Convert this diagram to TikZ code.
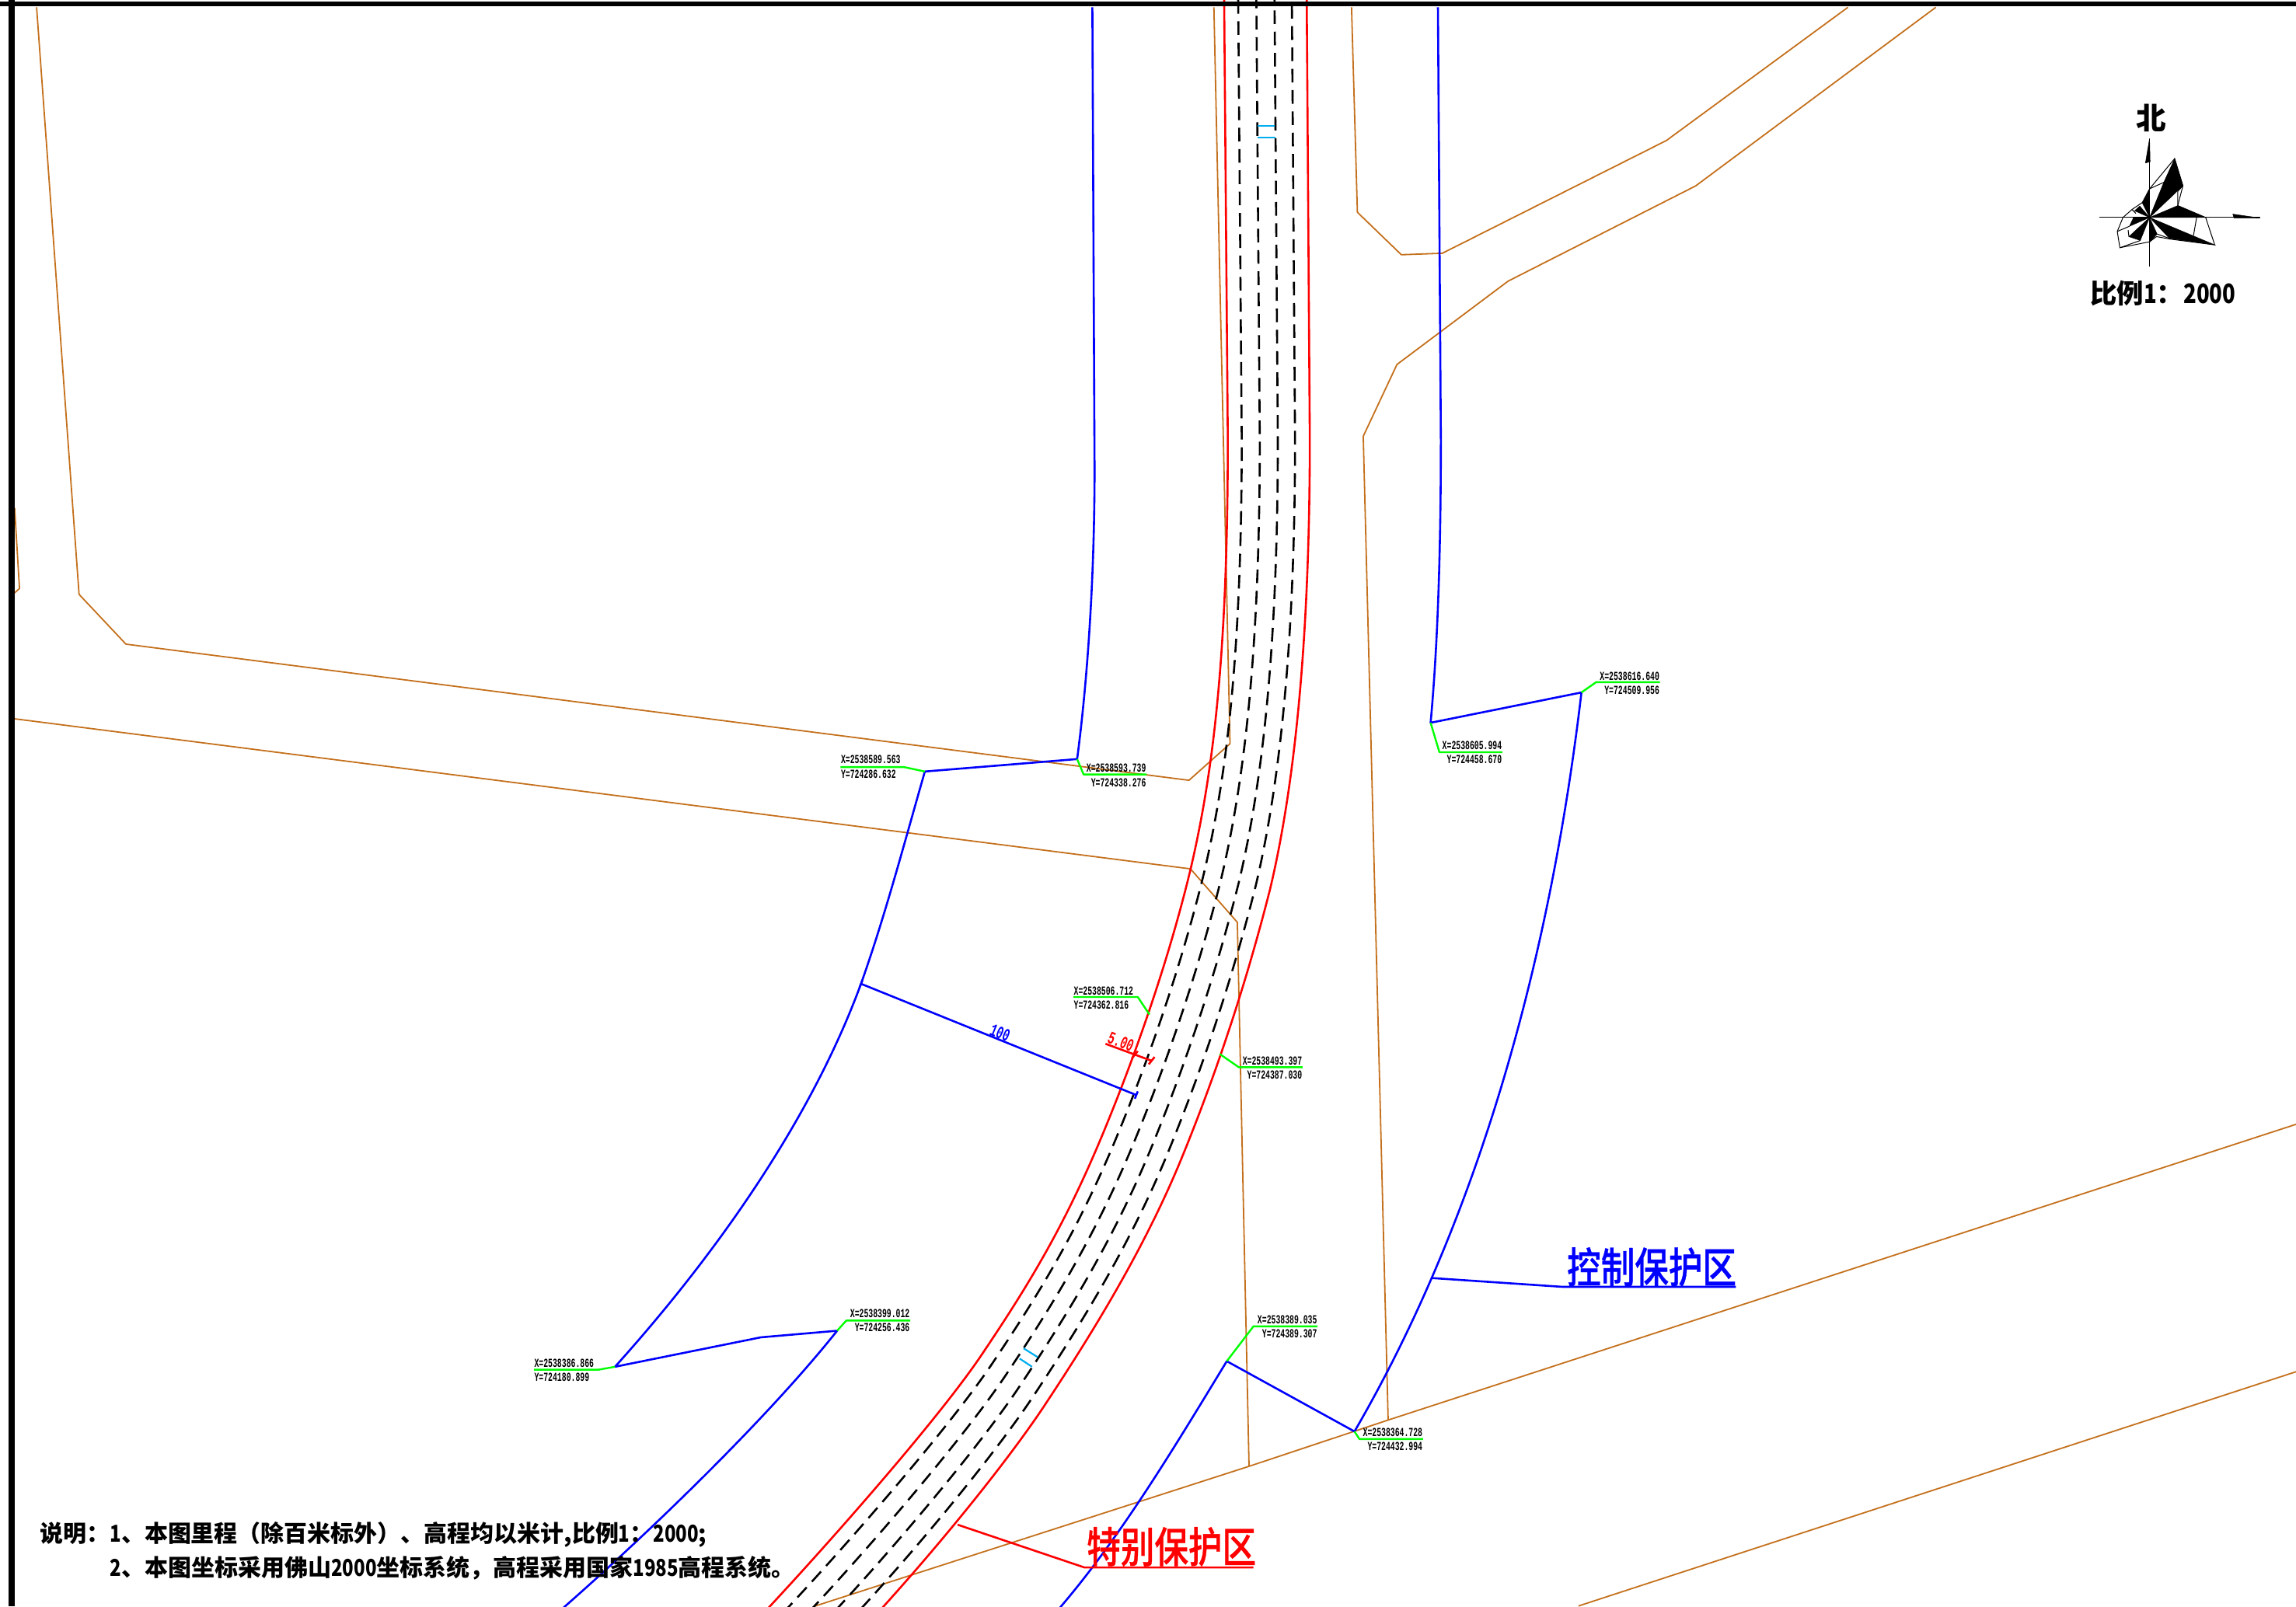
\documentclass[tikz,border=0pt]{standalone}
\usepackage{fontspec}
\newfontfamily\cjk{Noto Sans CJK SC}
\newfontfamily\cjkdig[FakeStretch=0.8]{Noto Sans CJK SC}
\newfontfamily\cjkn[FakeStretch=0.8,FakeBold=0.6]{Noto Sans CJK SC Medium}
\newfontfamily\coordfont[FakeStretch=0.62]{Liberation Mono}
\definecolor{plotorange}{RGB}{196,112,28}
\newcommand{\dg}[1]{{\cjkdig\bfseries #1}}
\tikzset{
  px/.style={line width=#1*0.2845pt},
  orangeline/.style={draw=plotorange,px=1.8,line join=round},
  redline/.style={draw=red,px=2.6,line join=round},
  blueline/.style={draw=blue,px=2.6,line join=round},
  greenline/.style={draw=green,px=2.4,line join=round},
  laneline/.style={draw=black,px=2.6,dash pattern=on 5pt off 2.8pt},
  cyanline/.style={draw=cyan,px=2.2},
  cwest/.style={inner sep=0pt,anchor=west,font=\coordfont\bfseries\fontsize{4.5}{4.5}\selectfont},
  ceast/.style={inner sep=0pt,anchor=east,font=\coordfont\bfseries\fontsize{4.5}{4.5}\selectfont},
  dimtext/.style={inner sep=0pt,font=\coordfont\bfseries\fontsize{6.5}{6.5}\selectfont},
  zonetext/.style={inner sep=0pt,font=\cjkn\fontsize{15.5}{15.5}\selectfont},
  notetext/.style={inner sep=0pt,anchor=west,font=\cjk\bfseries\fontsize{8.53}{8.53}\selectfont},
  compassfill/.style={fill=black,draw=black,px=.5},
  compassline/.style={draw=black,px=1}
}
\usetikzlibrary{calc}
\newcommand{\mx}[3]{($(#1)!#3!(#2)$)}
\newcommand{\lanecurve}[1]{\mx{La}{Ra}{#1} -- \mx{Lb}{Rb}{#1}
 .. controls \mx{Lb1}{Rb1}{#1} and \mx{Lc2}{Rc2}{#1} .. \mx{Lc}{Rc}{#1}
 .. controls \mx{Lc1}{Rc1}{#1} and \mx{Ld2}{Rd2}{#1} .. \mx{Ld}{Rd}{#1}
 .. controls \mx{Ld1}{Rd1}{#1} and \mx{Le2}{Re2}{#1} .. \mx{Le}{Re}{#1}
 .. controls \mx{Le1}{Re1}{#1} and \mx{Lf2}{Rf2}{#1} .. \mx{Lf}{Rf}{#1}
 -- \mx{Lg}{Rg}{#1}}
\begin{document}
\begin{tikzpicture}[x=0.0188393cm,y=-0.0188393cm]
\useasboundingbox (0,0) rectangle (1568,1097.19);
\begin{scope}
\clip (0,0) rectangle (1568,1097.19);
% road stations: left edge
\coordinate (La) at (836,0);
\coordinate (Lb) at (838.5,300);
\coordinate (Lb1) at (838.5,450);
\coordinate (Lc2) at (828,530);
\coordinate (Lc) at (813,594);
\coordinate (Lc1) at (800,648);
\coordinate (Ld2) at (779.6,710);
\coordinate (Ld) at (755,770);
\coordinate (Ld1) at (728,836);
\coordinate (Le2) at (703,877);
\coordinate (Le) at (670,926);
\coordinate (Le1) at (643,966);
\coordinate (Lf2) at (577,1042);
\coordinate (Lf) at (526,1097);
\coordinate (Lg) at (490,1136);
% road stations: right edge
\coordinate (Ra) at (892.4,0);
\coordinate (Rb) at (894.5,300);
\coordinate (Rb1) at (894.5,450);
\coordinate (Rc2) at (882,546);
\coordinate (Rc) at (867.3,607.6);
\coordinate (Rc1) at (853,664);
\coordinate (Rd2) at (833.6,726);
\coordinate (Rd) at (807,791);
\coordinate (Rd1) at (782.4,851);
\coordinate (Re2) at (748,907.5);
\coordinate (Re) at (715,957.5);
\coordinate (Re1) at (686,1002);
\coordinate (Rf2) at (622,1080);
\coordinate (Rf) at (568,1135);
\coordinate (Rg) at (532,1174);
% orange boundaries
\draw[orangeline] (25,5) -- (54,406) -- (86,440) -- (812,533) -- (840,508) -- (829,5);
\draw[orangeline] (10,347) -- (13.3,402) -- (10,405);
\draw[orangeline] (10,491) -- (813,593.5) -- (845,630) -- (853,1001.6);
\draw[orangeline] (923,5) -- (927,145) -- (957,174) -- (985,173) -- (1138,96) -- (1262,5);
\draw[orangeline] (1322,5) -- (1158,127) -- (1030,192) -- (954,249) -- (931,298) -- (948,970);
\draw[orangeline] (556.8,1097) -- (853,1001.6) -- (948,970) -- (1568,768);
\draw[orangeline] (1078,1097) -- (1568,937);
% lanes
\draw[laneline] \lanecurve{0.17};
\draw[laneline,dash phase=2pt] \lanecurve{0.39};
\draw[laneline,dash phase=4pt] \lanecurve{0.61};
\draw[laneline,dash phase=6pt] \lanecurve{0.82};
\draw[redline] \lanecurve{0};
\draw[redline] \lanecurve{1};
% cyan marks
\draw[cyanline] (858.8,86) -- (870.5,86);
\draw[cyanline] (858.8,93.8) -- (871,93.8);
\draw[cyanline] (699,921) -- (708.6,927);
\draw[cyanline] (696.3,928) -- (704.8,933.6);
% blue control zone
\coordinate (a1) at (735.6,518.5);
\coordinate (a2) at (631.6,527);
\coordinate (a3) at (420,933.6);
\coordinate (a4) at (571.7,909);
\coordinate (b1) at (977,493.7);
\coordinate (b2) at (1080,473);
\coordinate (b3) at (925,977.8);
\coordinate (b4) at (837.8,929.8);
\coordinate (d1) at (588,672);
\coordinate (d2) at (776,748);
\draw[blueline] (746,5) -- (747.5,320) .. controls (747.5,400) and (742,470) .. (a1) -- (a2)
  .. controls (617,578) and (604,627) .. (d1)
  .. controls (555,762) and (492,853.6) .. (a3)
  -- (519.6,913.5) -- (a4)
  .. controls (524,969) and (442,1048) .. (385,1098);
\draw[blueline] (982,5) -- (984,300) .. controls (984,390) and (981,450) .. (b1) -- (b2)
  .. controls (1058,660) and (1008,835) .. (b3) -- (b4)
  .. controls (800,992) and (765,1050) .. (724,1098);
\end{scope}
% dimensions
\draw[blueline] (d1) -- (d2);
\draw[blueline] ($(d1)+(-1,2.5)$) -- ($(d1)+(1,-2.5)$);
\draw[blueline] ($(d2)+(-1,2.5)$) -- ($(d2)+(1,-2.5)$);
\node[dimtext,rotate=-22,text=blue] (t100) at (683,705.5) {100};
\draw[redline] (755,713) -- (786.5,724.6);
\draw[redline] (784.5,727) -- (788.5,722);
\draw[redline] (773,723) -- (777,718);
\node[dimtext,rotate=-22,text=red] (t500) at (765.5,711.5) {5.00};
% green leaders
\draw[greenline] (a2) -- (617.5,524) -- (574,524);
\draw[greenline] (a1) -- (740,529) -- (783,529);
\draw[greenline] (785,693) -- (777,681) -- (733,681);
\draw[greenline] (833,720) -- (846,729) -- (889.6,729);
\draw[greenline] (a3) -- (408.8,935.6) -- (364.6,935.6);
\draw[greenline] (a4) -- (578,902) -- (621.6,902);
\draw[greenline] (b4) -- (856,906) -- (899.8,906);
\draw[greenline] (b3) -- (928.4,983) -- (971.8,983);
\draw[greenline] (b2) -- (1090,466) -- (1133.6,466);
\draw[greenline] (b1) -- (983,513.8) -- (1026,513.8);
% coordinate labels
\node[cwest] (p1x) at (574,519) {X=2538589.563};
\node[cwest] (p1y) at (574,529) {Y=724286.632};
\node[ceast] (p2x) at (783,524.5) {X=2538593.739};
\node[ceast] (p2y) at (783,534.5) {Y=724338.276};
\node[cwest] (p3x) at (733,677) {X=2538506.712};
\node[cwest] (p3y) at (733,686.5) {Y=724362.816};
\node[ceast] (p4x) at (889.6,724.5) {X=2538493.397};
\node[ceast] (p4y) at (889.6,734) {Y=724387.030};
\node[cwest] (p5x) at (364.6,931) {X=2538386.866};
\node[cwest] (p5y) at (364.6,940.7) {Y=724180.899};
\node[ceast] (p6x) at (621.6,897) {X=2538399.012};
\node[ceast] (p6y) at (621.6,906.6) {Y=724256.436};
\node[ceast] (p7x) at (899.8,901.4) {X=2538389.035};
\node[ceast] (p7y) at (899.8,911) {Y=724389.307};
\node[ceast] (p8x) at (971.8,978.3) {X=2538364.728};
\node[ceast] (p8y) at (971.8,988) {Y=724432.994};
\node[ceast] (p9x) at (1133.6,461.8) {X=2538616.640};
\node[ceast] (p9y) at (1133.6,471.4) {Y=724509.956};
\node[ceast] (p10x) at (1026,509) {X=2538605.994};
\node[ceast] (p10y) at (1026,519) {Y=724458.670};
% zone labels
\node[zonetext,text=blue] (ctrl) at (1128,865.5) {控制保护区};
\draw[blueline] (978,873) -- (1067,879) -- (1185.5,879);
\node[zonetext,text=red] (spec) at (800,1056.5) {特别保护区};
\draw[redline] (654,1041.5) -- (740.6,1070.7) -- (856,1070.7);
% notes
\node[notetext] (n1) at (27,1048) {说明：\dg{1}、本图里程（除百米标外）、高程均以米计,比例\dg{1}：\dg{2000};};
\node[notetext] (n2) at (75,1071) {\dg{2}、本图坐标采用佛山\dg{2000}坐标系统，高程采用国家\dg{1985}高程系统。};
% compass
\begin{scope}[shift={(1380.1,53.08)},x=0.003333cm,y=-0.003333cm]
\coordinate (c) at (498,541);
\draw[compassline] (498,240) -- (498,730);
\draw[compassline] (303,541) -- (925,541);
\fill[compassfill] (498,235) -- (482,330) -- (500,325) -- cycle;
\fill[compassfill] (820,528) -- (925,543) -- (825,543) -- cycle;
\fill[compassfill] (c) -- (553,405) -- (595,313) -- (627,418) -- cycle;
\fill[compassfill] (c) -- (470,485) -- (498,430) -- cycle;
\fill[compassfill] (c) -- (607,495) -- (715,541) -- cycle;
\fill[compassfill] (c) -- (750,647) -- (575,622) -- cycle;
\fill[compassfill] (c) -- (498,637) -- (527,605) -- cycle;
\fill[compassfill] (c) -- (418,615) -- (462,630) -- cycle;
\fill[compassfill] (c) -- (436,541) -- (420,575) -- cycle;
\fill[compassfill] (c) -- (440,515) -- (460,497) -- cycle;
\draw[compassline] (498,430) -- (595,313) -- (627,418) -- (607,495) -- (715,541) -- (750,647) -- (580,625) -- (525,615) -- (498,635) -- (383,658) -- (373,595) -- (395,541) -- (430,510) -- (470,483) -- (498,430);
\draw[compassline] (498,430) -- (553,405);
\draw[compassline] (607,495) -- (607,440) -- (627,418);
\draw[compassline] (680,541) -- (668,610);
\draw[compassline] (527,605) -- (575,622);
\draw[compassline] (373,595) -- (420,575);
\draw[compassline] (383,658) -- (462,630);
\draw[compassline] (418,615) -- (415,590);
\draw[compassline] (430,510) -- (445,525);
\node[inner sep=0pt,font=\cjk\bfseries\fontsize{11}{11}\selectfont] (north) at (505,155) {北};
\node[inner sep=0pt,font=\cjk\bfseries\fontsize{9.8}{9.8}\selectfont] (scale) at (550,835) {比例\dg{1}：\dg{2000}};
\end{scope}
% frame
\fill[black] (0,1) rectangle (1568,4.3);
\fill[black] (5.8,0) rectangle (10.1,1097.19);
\end{tikzpicture}
\end{document}
